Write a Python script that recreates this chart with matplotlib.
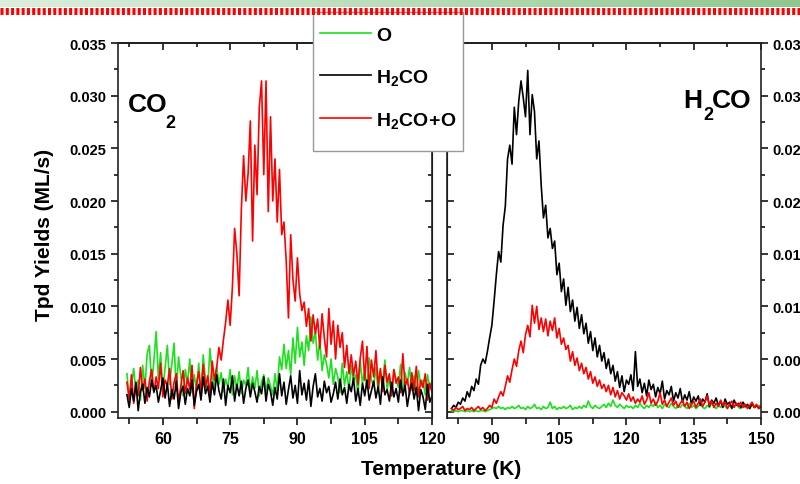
import numpy as np
import matplotlib
matplotlib.use("Agg")
import matplotlib.pyplot as plt
from matplotlib.lines import Line2D
from matplotlib.patches import Rectangle
from matplotlib.ticker import MultipleLocator, FormatStrFormatter

plt.rcParams['font.family'] = ['Liberation Sans', 'DejaVu Sans']
plt.rcParams['font.weight'] = 'bold'
plt.rcParams['mathtext.fontset'] = 'custom'
plt.rcParams['mathtext.rm'] = 'Liberation Sans:bold'
plt.rcParams['mathtext.bf'] = 'Liberation Sans:bold'
plt.rcParams['mathtext.it'] = 'Liberation Sans:bold'

# TPD yields in units of 1e-3 ML/s, sampled every 0.5 K
# left panel: CO2 (m/z 44), 52 K .. 120 K
t_co2 = np.arange(52.0, 120.01, 0.5)
co2_h2co_o = [
    2.8, 1.2, 3.5, 0.8, 2.6, 1.5, 4.2, 2.0, 3.1, 1.0,
    2.9, 4.0, 1.8, 3.3, 2.2, 4.6, 1.4, 3.0, 2.5, 4.1,
    1.2, 2.8, 3.6, 0.9, 2.4, 3.9, 1.7, 3.2, 2.1, 4.4,
    0.3, 2.6, 3.8, 1.9, 4.5, 2.3, 3.4, 1.6, 4.8, 3.0,
    4.2, 6.1, 4.9, 6.8, 8.5, 10.6, 8.2, 11.8, 17.4, 15.0,
    11.0, 19.2, 24.3, 20.0, 22.6, 27.6, 16.2, 25.3, 20.6, 28.9,
    31.4, 22.5, 31.4, 19.0, 28.0, 20.0, 24.0, 18.0, 23.0, 16.8,
    18.0, 14.3, 8.9, 16.8, 12.5, 10.5, 14.6, 11.2, 9.6, 10.4,
    8.1, 9.8, 6.7, 9.2, 7.4, 8.8, 6.0, 9.3, 7.0, 5.2,
    9.8, 6.4, 8.6, 5.0, 8.2, 6.1, 7.5, 4.2, 6.3, 3.6,
    5.4, 3.4, 4.8, 2.6, 5.1, 6.7, 3.0, 6.2, 2.2, 4.9,
    3.3, 5.8, 2.5, 4.1, 1.9, 4.4, 2.8, 3.6, 1.5, 4.0,
    2.7, 3.3, 1.8, 5.5, 2.4, 3.1, 1.6, 3.7, 2.0, 4.3,
    1.4, 3.0, 2.3, 3.6, 1.1, 2.7, 1.8,
]
co2_o = [
    3.6, 1.2, 2.5, 4.1, 1.8, 3.0, 1.1, 4.4, 2.2, 5.5,
    6.3, 2.4, 4.8, 7.6, 3.1, 5.6, 1.9, 4.2, 6.3, 2.6,
    4.5, 6.5, 2.0, 5.2, 3.4, 1.5, 4.0, 2.7, 5.0, 1.8,
    3.5, 2.1, 4.6, 1.4, 5.4, 3.0, 2.2, 6.0, 3.3, 2.4,
    4.3, 2.6, 3.7, 1.9, 3.1, 2.3, 4.0, 1.6, 3.4, 2.1,
    3.8, 1.7, 3.0, 2.5, 4.2, 1.8, 3.3, 2.2, 3.9, 1.5,
    2.8, 3.5, 1.9, 3.2, 2.4, 1.6, 3.6, 2.0, 5.2, 4.0,
    6.4, 4.1, 5.8, 3.5, 7.0, 4.6, 8.0, 5.2, 6.6, 4.4,
    7.2, 5.8, 9.0, 6.5, 7.6, 4.9, 6.8, 3.9, 5.4, 4.5,
    3.2, 5.0, 2.6, 4.1, 3.3, 1.8, 4.6, 2.5, 3.8, 2.0,
    4.4, 2.9, 3.5, 1.6, 4.8, 2.7, 3.9, 2.2, 5.1, 3.0,
    2.4, 4.2, 1.9, 3.6, 2.8, 4.9, 2.1, 3.3, 1.5, 4.0,
    3.1, 2.3, 4.5, 1.8, 3.7, 2.6, 4.2, 2.0, 3.4, 1.7,
    3.9, 2.4, 3.0, 1.6, 3.5, 2.2, 2.9,
]
co2_h2co = [
    1.6, 0.4, 2.2, 1.0, 2.8, 0.1, 1.9, 2.6, 0.8, 2.3,
    1.4, 3.0, 1.9, 2.5, 0.9, 2.0, 3.2, 1.3, 2.7, 0.5,
    2.1, 1.2, 2.9, 0.3, 1.8, 2.4, 0.7, 2.2, 1.5, 3.0,
    0.6, 1.9, 2.6, 1.1, 3.3, 1.7, 2.4, 0.9, 2.8, 1.6,
    3.5, 2.0, 1.2, 3.1, 0.6, 2.5, 1.8, 3.4, 1.0, 2.6,
    1.5, 2.9, 0.8, 2.2, 3.0, 1.4, 2.7, 1.9, 0.9, 2.4,
    1.7, 3.3, 1.0, 2.6, 1.9, 0.6, 2.3, 1.2, 3.6, 1.5,
    2.8, 0.7, 2.1, 3.4, 1.3, 2.5, 0.8, 3.9, 1.6, 2.7,
    1.1, 3.0, 0.5, 2.4, 3.6, 1.4, 2.2, 1.0, 2.9, 1.8,
    2.4, 0.9, 1.7, 2.8, 1.2, 3.1, 1.6, 2.3, 0.8, 2.6,
    1.9, 3.2, 1.0, 2.2, 0.6, 2.7, 1.5, 3.0, 1.1, 2.0,
    2.9, 1.3, 2.4, 0.7, 3.3, 1.6, 2.1, 1.0, 2.8, 1.4,
    2.2, 0.9, 3.0, 1.5, 2.5, 0.5, 1.9, 2.7, 1.2, 2.3,
    0.1, 2.1, 1.4, 0.2, 2.6, 0.9, 1.5,
]

# right panel: H2CO (m/z 30), 81 K .. 150 K
t_h2co = np.arange(81.0, 150.01, 0.5)
h2co_h2co = [
    0.3, 0.6, 0.4, 0.9, 0.7, 1.3, 1.0, 1.9, 1.4, 2.4,
    2.0, 3.1, 2.6, 4.4, 5.0, 4.6, 5.7, 7.0, 8.2, 10.5,
    13.0, 15.2, 14.2, 17.7, 19.5, 24.0, 25.3, 23.5, 28.9, 26.3,
    29.5, 31.4, 29.8, 28.0, 32.4, 26.3, 30.1, 28.5, 24.0, 25.7,
    21.5, 18.4, 19.6, 16.5, 17.4, 15.5, 16.2, 13.0, 14.1, 11.4,
    12.6, 10.1, 11.8, 9.5, 10.6, 8.6, 9.9, 7.9, 9.2, 7.4,
    8.4, 6.5, 7.6, 5.8, 7.0, 5.2, 6.3, 4.8, 5.6, 4.1,
    5.0, 3.6, 4.4, 2.9, 3.8, 2.3, 3.4, 1.9, 3.0, 2.6,
    3.5, 2.0, 5.7, 2.4, 3.1, 1.8, 2.7, 1.5, 3.0, 2.1,
    2.6, 1.4, 2.3, 1.7, 2.9, 1.2, 2.0, 1.6, 2.4, 1.0,
    1.8, 1.3, 2.2, 0.9, 1.6, 1.1, 1.9, 0.7, 1.4, 1.0,
    1.5, 0.6, 1.2, 0.9, 1.7, 0.5, 1.1, 0.8, 1.3, 0.6,
    1.0, 0.4, 1.2, 0.7, 0.9, 0.3, 1.1, 0.6, 0.8, 0.4,
    0.9, 0.5, 0.7, 0.3, 0.8, 0.4, 0.6, 0.3, 0.5,
]
h2co_h2co_o = [
    0.3, 0.1, 0.4, 0.2, 0.3, 0.5, 0.1, 0.3, 0.2, 0.4,
    0.1, 0.3, 0.5, 0.2, 0.4, 0.1, 0.3, 0.6, 0.4, 1.2,
    0.8, 1.4, 1.9, 1.5, 2.4, 3.4, 2.8, 4.0, 5.0, 4.3,
    5.8, 6.7, 5.6, 7.3, 8.2, 7.1, 10.1, 8.4, 10.0, 7.8,
    8.9, 7.6, 8.8, 7.2, 8.6, 7.7, 8.9, 7.0, 7.9, 6.4,
    7.0, 5.9, 6.3, 4.8, 5.7, 4.4, 5.1, 3.9, 4.6, 3.6,
    4.2, 3.1, 3.8, 2.7, 3.3, 2.4, 3.0, 2.2, 2.6, 1.9,
    2.5, 1.6, 2.3, 1.4, 2.0, 1.2, 1.8, 1.5, 1.1, 1.7,
    1.0, 1.4, 0.8, 1.2, 0.9, 1.5, 0.7, 1.1, 1.8, 0.8,
    1.2, 0.6, 1.0, 1.8, 0.7, 1.1, 0.5, 0.9, 1.3, 0.6,
    1.0, 0.4, 0.8, 1.1, 0.5, 0.9, 0.3, 0.7, 1.0, 0.4,
    0.8, 1.2, 0.5, 0.9, 1.5, 0.6, 1.0, 0.4, 0.8, 0.5,
    1.1, 0.6, 0.9, 0.3, 0.7, 1.0, 0.4, 0.8, 0.5, 0.9,
    0.4, 0.7, 0.3, 0.6, 0.9, 0.4, 0.7, 0.3, 0.6,
]
h2co_o = [
    0.1, 0.0, 0.1, 0.0, 0.1, 0.1, 0.0, 0.1, 0.0, 0.1,
    0.0, 0.1, 0.0, 0.1, 0.1, 0.0, 0.1, 0.2, 0.3, 0.4,
    0.3, 0.5, 0.3, 0.4, 0.2, 0.4, 0.3, 0.5, 0.3, 0.4,
    0.6, 0.3, 0.4, 0.2, 0.5, 0.3, 0.4, 0.7, 0.3, 0.4,
    0.2, 0.5, 0.3, 0.4, 0.9, 0.3, 0.5, 0.2, 0.4, 0.3,
    0.5, 0.3, 0.4, 0.6, 0.2, 0.4, 0.3, 0.5, 0.3, 0.6,
    0.4, 1.0, 0.5, 0.3, 0.6, 0.4, 0.3, 0.5, 0.7, 0.4,
    0.8, 0.5, 1.1, 0.6, 0.4, 0.7, 0.5, 0.3, 0.6, 0.4,
    0.5, 0.3, 0.6, 0.4, 0.8, 0.5, 0.3, 0.6, 0.4, 0.7,
    0.5, 0.9, 0.4, 0.6, 0.3, 0.7, 0.5, 0.4, 0.8, 0.5,
    0.3, 0.6, 0.4, 0.7, 0.5, 0.3, 0.8, 0.4, 0.6, 0.3,
    0.5, 0.7, 0.4, 0.3, 0.6, 0.4, 0.8, 0.5, 0.3, 0.6,
    0.4, 0.7, 0.5, 0.3, 0.6, 0.4, 0.5, 0.8, 0.4, 0.3,
    0.6, 0.4, 0.5, 0.3, 0.7, 0.4, 0.5, 0.6, 0.4,
]

labels = ['O', r'$\mathregular{H_2CO}$', r'$\mathregular{H_2CO\!+\!O}$']
colors = ['#1ee01e', 'black', '#ff0000']

W, H = 800, 485
fig = plt.figure(figsize=(8, 4.85), dpi=100)


def style_axis(ax, xlim, major, side):
    ax.set_xlim(*xlim)
    ax.set_ylim(-0.0006, 0.035)
    ax.xaxis.set_major_locator(MultipleLocator(major))
    ax.xaxis.set_minor_locator(MultipleLocator(major / 2))
    ax.yaxis.set_major_locator(MultipleLocator(0.005))
    ax.yaxis.set_minor_locator(MultipleLocator(0.0025))
    ax.yaxis.set_major_formatter(FormatStrFormatter('%.3f'))
    for s in ax.spines.values():
        s.set_linewidth(1.2)
        s.set_color('#222222')
    ax.tick_params(axis='x', which='both', direction='out', top=False,
                   labelsize=11.5, pad=4, width=1.1)
    ax.tick_params(axis='x', which='major', length=5)
    ax.tick_params(axis='x', which='minor', length=4)
    # mirrored inward ticks on top
    sec = ax.secondary_xaxis('top')
    sec.xaxis.set_major_locator(MultipleLocator(major))
    sec.xaxis.set_minor_locator(MultipleLocator(major / 2))
    sec.tick_params(which='both', direction='in', labeltop=False, width=1.1)
    sec.tick_params(which='major', length=5)
    sec.tick_params(which='minor', length=3)
    sec.spines['top'].set_linewidth(1.2)
    if side == 'left':
        ax.tick_params(axis='y', which='both', direction='out', left=True,
                       right=False, labelsize=10.5, width=1.1)
        other = ax.secondary_yaxis('right')
        lab_side = dict(labelright=False)
    else:
        ax.yaxis.tick_right()
        ax.tick_params(axis='y', which='both', direction='out', right=True,
                       left=False, labelsize=10.5, width=1.1)
        other = ax.secondary_yaxis('left')
        lab_side = dict(labelleft=False)
    ax.tick_params(axis='y', which='major', length=5)
    ax.tick_params(axis='y', which='minor', length=3)
    other.yaxis.set_major_locator(MultipleLocator(0.005))
    other.yaxis.set_minor_locator(MultipleLocator(0.0025))
    other.tick_params(which='both', direction='in', width=1.1, **lab_side)
    other.tick_params(which='major', length=5)
    other.tick_params(which='minor', length=3)


# left panel
ax1 = fig.add_axes([118 / W, 1 - 419 / H, 314 / W, 375 / H])
l_o, = ax1.plot(t_co2, np.array(co2_o) * 1e-3, color=colors[0], lw=1.2)
l_r, = ax1.plot(t_co2, np.array(co2_h2co_o) * 1e-3, color=colors[2], lw=1.2)
l_k, = ax1.plot(t_co2, np.array(co2_h2co) * 1e-3, color=colors[1], lw=1.2)
style_axis(ax1, (50, 120), 15, 'left')
ax1.text(10 / 314, 1 - 61 / 375, 'CO', transform=ax1.transAxes,
         fontsize=19, fontweight='bold', va='center')
ax1.text(47 / 314, 1 - 80 / 375, '2', transform=ax1.transAxes,
         fontsize=13, fontweight='bold', va='center')

# right panel
ax2 = fig.add_axes([447 / W, 1 - 419 / H, 314 / W, 375 / H])
ax2.plot(t_h2co, np.array(h2co_o) * 1e-3, color=colors[0], lw=1.2)
ax2.plot(t_h2co, np.array(h2co_h2co) * 1e-3, color=colors[1], lw=1.2)
ax2.plot(t_h2co, np.array(h2co_h2co_o) * 1e-3, color=colors[2], lw=1.2)
style_axis(ax2, (80, 150), 15, 'right')
ax2.text(236 / 314, 1 - 57 / 375, 'H', transform=ax2.transAxes,
         fontsize=19, fontweight='bold', va='center')
ax2.text(256 / 314, 1 - 72 / 375, '2', transform=ax2.transAxes,
         fontsize=13, fontweight='bold', va='center')
ax2.text(265 / 314, 1 - 57 / 375, 'CO', transform=ax2.transAxes,
         fontsize=19, fontweight='bold', va='center')

fig.text(45 / W, 1 - 235 / H, 'Tpd Yields (ML/s)', rotation=90,
         fontsize=15, fontweight='bold', ha='center', va='center')
fig.text(441 / W, 1 - 470 / H, 'Temperature (K)', fontsize=15,
         fontweight='bold', ha='center', va='center')

# legend box
fig.add_artist(Rectangle((313 / W, 1 - 152 / H), 150 / W, 139 / H,
                         transform=fig.transFigure, facecolor='white',
                         edgecolor='#999999', lw=1.0, zorder=4))
leg = fig.legend([l_o, l_k, l_r], labels, loc='upper left',
                 bbox_to_anchor=(320 / W, 1 - 27 / H), borderaxespad=0,
                 borderpad=0, frameon=False,
                 prop={'weight': 'bold', 'size': 14},
                 handlelength=2.6, labelspacing=1.2, handletextpad=0.3)
leg.set_zorder(5)

# header decoration: green band and red dotted rule
band = fig.add_axes([0, 1 - 8 / H, 1, 8 / H])
grad = np.linspace(0, 1, 256)[None, :]
band.imshow(grad, aspect='auto', cmap=matplotlib.colors.LinearSegmentedColormap.from_list(
    'g', ['#dcefdc', '#b9dcb9', '#8fc78f']), extent=[0, 1, 0, 1])
band.set_axis_off()
fig.add_artist(Line2D([0, 1], [1 - 11.5 / H, 1 - 11.5 / H], color='#ff0000',
                      lw=5.0, dashes=(0.44, 0.32), dash_capstyle='butt',
                      transform=fig.transFigure, zorder=10))

fig.savefig('out.png', dpi=100)
